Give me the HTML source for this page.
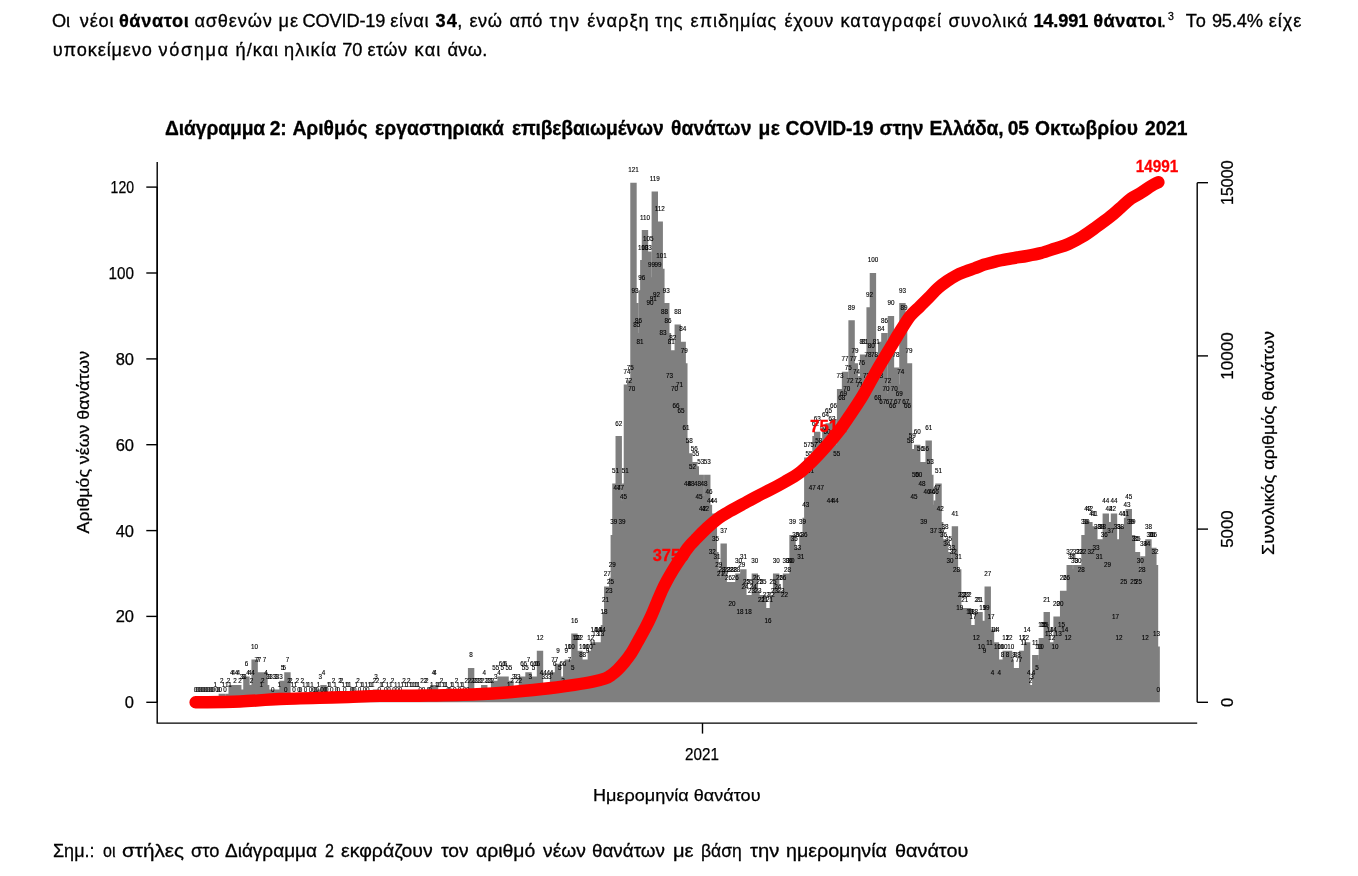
<!DOCTYPE html>
<html lang="el"><head><meta charset="utf-8"><title>COVID-19</title>
<style>
html,body{margin:0;padding:0;background:#fff}
body{width:1358px;height:876px;position:relative;overflow:hidden;font-family:"Liberation Sans",sans-serif;color:#000}
.t{position:absolute;white-space:nowrap;line-height:1;-webkit-text-stroke:0.3px #000}
.b{font-weight:bold}
</style></head><body>
<svg width="1358" height="876" viewBox="0 0 1358 876" style="position:absolute;left:0;top:0" font-family="'Liberation Sans', sans-serif">
<path d="M212.08 702.3h6.4V698.0h-6.4zM218.64 702.3h6.4V693.7h-6.4zM220.28 702.3h6.4V698.0h-6.4zM223.56 702.3h6.4V698.0h-6.4zM225.20 702.3h6.4V693.7h-6.4zM226.84 702.3h6.4V698.0h-6.4zM228.48 702.3h6.4V685.1h-6.4zM230.12 702.3h6.4V685.1h-6.4zM231.76 702.3h6.4V693.7h-6.4zM233.40 702.3h6.4V685.1h-6.4zM235.04 702.3h6.4V685.1h-6.4zM236.68 702.3h6.4V693.7h-6.4zM238.32 702.3h6.4V689.4h-6.4zM239.96 702.3h6.4V689.4h-6.4zM241.60 702.3h6.4V689.4h-6.4zM243.24 702.3h6.4V676.5h-6.4zM244.88 702.3h6.4V685.1h-6.4zM246.52 702.3h6.4V685.1h-6.4zM248.16 702.3h6.4V693.7h-6.4zM249.80 702.3h6.4V685.1h-6.4zM251.44 702.3h6.4V659.4h-6.4zM253.08 702.3h6.4V672.2h-6.4zM254.72 702.3h6.4V672.2h-6.4zM256.36 702.3h6.4V672.2h-6.4zM258.00 702.3h6.4V698.0h-6.4zM259.64 702.3h6.4V693.7h-6.4zM261.28 702.3h6.4V672.2h-6.4zM262.92 702.3h6.4V685.1h-6.4zM264.56 702.3h6.4V689.4h-6.4zM266.20 702.3h6.4V689.4h-6.4zM267.84 702.3h6.4V689.4h-6.4zM271.12 702.3h6.4V689.4h-6.4zM272.76 702.3h6.4V689.4h-6.4zM274.40 702.3h6.4V689.4h-6.4zM276.04 702.3h6.4V698.0h-6.4zM277.68 702.3h6.4V689.4h-6.4zM279.32 702.3h6.4V680.8h-6.4zM280.96 702.3h6.4V680.8h-6.4zM284.24 702.3h6.4V672.2h-6.4zM285.88 702.3h6.4V693.7h-6.4zM287.52 702.3h6.4V693.7h-6.4zM289.16 702.3h6.4V698.0h-6.4zM292.44 702.3h6.4V698.0h-6.4zM294.08 702.3h6.4V693.7h-6.4zM299.00 702.3h6.4V693.7h-6.4zM300.64 702.3h6.4V698.0h-6.4zM303.92 702.3h6.4V698.0h-6.4zM305.56 702.3h6.4V698.0h-6.4zM308.84 702.3h6.4V698.0h-6.4zM315.40 702.3h6.4V698.0h-6.4zM317.04 702.3h6.4V689.4h-6.4zM320.32 702.3h6.4V685.1h-6.4zM325.24 702.3h6.4V698.0h-6.4zM326.88 702.3h6.4V698.0h-6.4zM330.16 702.3h6.4V693.7h-6.4zM331.80 702.3h6.4V698.0h-6.4zM336.72 702.3h6.4V693.7h-6.4zM338.36 702.3h6.4V693.7h-6.4zM340.00 702.3h6.4V698.0h-6.4zM343.28 702.3h6.4V698.0h-6.4zM344.92 702.3h6.4V698.0h-6.4zM346.56 702.3h6.4V698.0h-6.4zM353.12 702.3h6.4V698.0h-6.4zM354.76 702.3h6.4V693.7h-6.4zM358.04 702.3h6.4V698.0h-6.4zM359.68 702.3h6.4V698.0h-6.4zM362.96 702.3h6.4V698.0h-6.4zM366.24 702.3h6.4V698.0h-6.4zM367.88 702.3h6.4V698.0h-6.4zM369.52 702.3h6.4V698.0h-6.4zM371.16 702.3h6.4V693.7h-6.4zM372.80 702.3h6.4V689.4h-6.4zM374.44 702.3h6.4V693.7h-6.4zM377.72 702.3h6.4V698.0h-6.4zM379.36 702.3h6.4V698.0h-6.4zM381.00 702.3h6.4V693.7h-6.4zM384.28 702.3h6.4V698.0h-6.4zM387.56 702.3h6.4V698.0h-6.4zM389.20 702.3h6.4V693.7h-6.4zM392.48 702.3h6.4V698.0h-6.4zM395.76 702.3h6.4V698.0h-6.4zM399.04 702.3h6.4V698.0h-6.4zM400.68 702.3h6.4V693.7h-6.4zM402.32 702.3h6.4V698.0h-6.4zM403.96 702.3h6.4V698.0h-6.4zM405.60 702.3h6.4V693.7h-6.4zM407.24 702.3h6.4V698.0h-6.4zM408.88 702.3h6.4V698.0h-6.4zM410.52 702.3h6.4V698.0h-6.4zM412.16 702.3h6.4V698.0h-6.4zM413.80 702.3h6.4V698.0h-6.4zM415.44 702.3h6.4V698.0h-6.4zM418.72 702.3h6.4V693.7h-6.4zM422.00 702.3h6.4V693.7h-6.4zM423.64 702.3h6.4V693.7h-6.4zM428.56 702.3h6.4V698.0h-6.4zM430.20 702.3h6.4V685.1h-6.4zM431.84 702.3h6.4V685.1h-6.4zM433.48 702.3h6.4V698.0h-6.4zM435.12 702.3h6.4V698.0h-6.4zM436.76 702.3h6.4V698.0h-6.4zM438.40 702.3h6.4V693.7h-6.4zM440.04 702.3h6.4V698.0h-6.4zM441.68 702.3h6.4V698.0h-6.4zM443.32 702.3h6.4V698.0h-6.4zM448.24 702.3h6.4V698.0h-6.4zM449.88 702.3h6.4V698.0h-6.4zM453.16 702.3h6.4V693.7h-6.4zM454.80 702.3h6.4V698.0h-6.4zM458.08 702.3h6.4V698.0h-6.4zM459.72 702.3h6.4V698.0h-6.4zM463.00 702.3h6.4V693.7h-6.4zM466.28 702.3h6.4V693.7h-6.4zM467.92 702.3h6.4V668.0h-6.4zM469.56 702.3h6.4V693.7h-6.4zM471.20 702.3h6.4V693.7h-6.4zM472.84 702.3h6.4V693.7h-6.4zM474.48 702.3h6.4V693.7h-6.4zM476.12 702.3h6.4V693.7h-6.4zM477.76 702.3h6.4V693.7h-6.4zM479.40 702.3h6.4V693.7h-6.4zM481.04 702.3h6.4V685.1h-6.4zM482.68 702.3h6.4V693.7h-6.4zM484.32 702.3h6.4V693.7h-6.4zM485.96 702.3h6.4V693.7h-6.4zM487.60 702.3h6.4V693.7h-6.4zM489.24 702.3h6.4V693.7h-6.4zM490.88 702.3h6.4V680.8h-6.4zM492.52 702.3h6.4V689.4h-6.4zM494.16 702.3h6.4V680.8h-6.4zM495.80 702.3h6.4V685.1h-6.4zM497.44 702.3h6.4V676.5h-6.4zM499.08 702.3h6.4V680.8h-6.4zM500.72 702.3h6.4V676.5h-6.4zM502.36 702.3h6.4V676.5h-6.4zM504.00 702.3h6.4V680.8h-6.4zM505.64 702.3h6.4V698.0h-6.4zM507.28 702.3h6.4V680.8h-6.4zM508.92 702.3h6.4V693.7h-6.4zM510.56 702.3h6.4V689.4h-6.4zM512.20 702.3h6.4V689.4h-6.4zM513.84 702.3h6.4V693.7h-6.4zM515.48 702.3h6.4V689.4h-6.4zM517.12 702.3h6.4V693.7h-6.4zM518.76 702.3h6.4V676.5h-6.4zM520.40 702.3h6.4V680.8h-6.4zM522.04 702.3h6.4V676.5h-6.4zM523.68 702.3h6.4V680.8h-6.4zM525.32 702.3h6.4V672.2h-6.4zM526.96 702.3h6.4V689.4h-6.4zM528.60 702.3h6.4V676.5h-6.4zM530.24 702.3h6.4V680.8h-6.4zM531.88 702.3h6.4V676.5h-6.4zM533.52 702.3h6.4V676.5h-6.4zM535.16 702.3h6.4V676.5h-6.4zM536.80 702.3h6.4V650.8h-6.4zM538.44 702.3h6.4V685.1h-6.4zM540.08 702.3h6.4V689.4h-6.4zM541.72 702.3h6.4V685.1h-6.4zM543.36 702.3h6.4V689.4h-6.4zM545.00 702.3h6.4V685.1h-6.4zM546.64 702.3h6.4V689.4h-6.4zM548.28 702.3h6.4V685.1h-6.4zM549.92 702.3h6.4V672.2h-6.4zM551.56 702.3h6.4V676.5h-6.4zM553.20 702.3h6.4V672.2h-6.4zM554.84 702.3h6.4V663.7h-6.4zM556.48 702.3h6.4V680.8h-6.4zM558.12 702.3h6.4V676.5h-6.4zM559.76 702.3h6.4V693.7h-6.4zM561.40 702.3h6.4V676.5h-6.4zM563.04 702.3h6.4V663.7h-6.4zM564.68 702.3h6.4V659.4h-6.4zM566.32 702.3h6.4V672.2h-6.4zM567.96 702.3h6.4V659.4h-6.4zM569.60 702.3h6.4V680.8h-6.4zM571.24 702.3h6.4V633.6h-6.4zM572.88 702.3h6.4V650.8h-6.4zM574.52 702.3h6.4V650.8h-6.4zM576.16 702.3h6.4V650.8h-6.4zM577.80 702.3h6.4V668.0h-6.4zM579.44 702.3h6.4V659.4h-6.4zM581.08 702.3h6.4V668.0h-6.4zM582.72 702.3h6.4V659.4h-6.4zM584.36 702.3h6.4V663.7h-6.4zM586.00 702.3h6.4V659.4h-6.4zM587.64 702.3h6.4V650.8h-6.4zM589.28 702.3h6.4V655.1h-6.4zM590.92 702.3h6.4V642.2h-6.4zM592.56 702.3h6.4V646.5h-6.4zM594.20 702.3h6.4V642.2h-6.4zM595.84 702.3h6.4V642.2h-6.4zM597.48 702.3h6.4V646.5h-6.4zM599.12 702.3h6.4V642.2h-6.4zM600.76 702.3h6.4V625.0h-6.4zM602.40 702.3h6.4V612.1h-6.4zM604.04 702.3h6.4V586.4h-6.4zM605.68 702.3h6.4V603.6h-6.4zM607.32 702.3h6.4V595.0h-6.4zM608.96 702.3h6.4V577.8h-6.4zM610.60 702.3h6.4V534.9h-6.4zM612.24 702.3h6.4V483.4h-6.4zM613.88 702.3h6.4V500.5h-6.4zM615.52 702.3h6.4V436.1h-6.4zM617.16 702.3h6.4V500.5h-6.4zM618.80 702.3h6.4V534.9h-6.4zM620.44 702.3h6.4V509.1h-6.4zM622.08 702.3h6.4V483.4h-6.4zM623.72 702.3h6.4V384.6h-6.4zM625.36 702.3h6.4V393.2h-6.4zM627.00 702.3h6.4V380.3h-6.4zM628.64 702.3h6.4V401.8h-6.4zM630.28 702.3h6.4V182.8h-6.4zM631.92 702.3h6.4V303.1h-6.4zM633.56 702.3h6.4V337.4h-6.4zM635.20 702.3h6.4V333.1h-6.4zM636.84 702.3h6.4V354.6h-6.4zM638.48 702.3h6.4V290.2h-6.4zM640.12 702.3h6.4V260.1h-6.4zM641.76 702.3h6.4V230.1h-6.4zM643.40 702.3h6.4V260.1h-6.4zM645.04 702.3h6.4V251.5h-6.4zM646.68 702.3h6.4V315.9h-6.4zM648.32 702.3h6.4V277.3h-6.4zM649.96 702.3h6.4V311.6h-6.4zM651.60 702.3h6.4V191.4h-6.4zM653.24 702.3h6.4V307.3h-6.4zM654.88 702.3h6.4V277.3h-6.4zM656.52 702.3h6.4V221.5h-6.4zM658.16 702.3h6.4V268.7h-6.4zM659.80 702.3h6.4V346.0h-6.4zM661.44 702.3h6.4V324.5h-6.4zM663.08 702.3h6.4V303.1h-6.4zM664.72 702.3h6.4V333.1h-6.4zM666.36 702.3h6.4V388.9h-6.4zM668.00 702.3h6.4V354.6h-6.4zM669.64 702.3h6.4V350.3h-6.4zM671.28 702.3h6.4V401.8h-6.4zM672.92 702.3h6.4V419.0h-6.4zM674.56 702.3h6.4V324.5h-6.4zM676.20 702.3h6.4V397.5h-6.4zM677.84 702.3h6.4V423.3h-6.4zM679.48 702.3h6.4V341.7h-6.4zM681.12 702.3h6.4V363.2h-6.4zM682.76 702.3h6.4V440.4h-6.4zM684.40 702.3h6.4V496.2h-6.4zM686.04 702.3h6.4V453.3h-6.4zM687.68 702.3h6.4V496.2h-6.4zM689.32 702.3h6.4V479.1h-6.4zM690.96 702.3h6.4V461.9h-6.4zM692.60 702.3h6.4V466.2h-6.4zM694.24 702.3h6.4V496.2h-6.4zM695.88 702.3h6.4V509.1h-6.4zM697.52 702.3h6.4V474.8h-6.4zM699.16 702.3h6.4V522.0h-6.4zM700.80 702.3h6.4V496.2h-6.4zM702.44 702.3h6.4V522.0h-6.4zM704.08 702.3h6.4V474.8h-6.4zM705.72 702.3h6.4V504.8h-6.4zM707.36 702.3h6.4V513.4h-6.4zM709.00 702.3h6.4V564.9h-6.4zM710.64 702.3h6.4V513.4h-6.4zM712.28 702.3h6.4V552.0h-6.4zM713.92 702.3h6.4V569.2h-6.4zM715.56 702.3h6.4V577.8h-6.4zM717.20 702.3h6.4V586.4h-6.4zM718.84 702.3h6.4V582.1h-6.4zM720.48 702.3h6.4V543.5h-6.4zM722.12 702.3h6.4V586.4h-6.4zM723.76 702.3h6.4V582.1h-6.4zM725.40 702.3h6.4V590.7h-6.4zM727.04 702.3h6.4V582.1h-6.4zM728.68 702.3h6.4V616.4h-6.4zM730.32 702.3h6.4V582.1h-6.4zM731.96 702.3h6.4V590.7h-6.4zM733.60 702.3h6.4V582.1h-6.4zM735.24 702.3h6.4V573.5h-6.4zM736.88 702.3h6.4V625.0h-6.4zM738.52 702.3h6.4V577.8h-6.4zM740.16 702.3h6.4V569.2h-6.4zM741.80 702.3h6.4V599.3h-6.4zM743.44 702.3h6.4V595.0h-6.4zM745.08 702.3h6.4V625.0h-6.4zM746.72 702.3h6.4V595.0h-6.4zM748.36 702.3h6.4V603.6h-6.4zM750.00 702.3h6.4V599.3h-6.4zM751.64 702.3h6.4V573.5h-6.4zM753.28 702.3h6.4V590.7h-6.4zM754.92 702.3h6.4V603.6h-6.4zM756.56 702.3h6.4V595.0h-6.4zM758.20 702.3h6.4V612.1h-6.4zM759.84 702.3h6.4V595.0h-6.4zM761.48 702.3h6.4V612.1h-6.4zM763.12 702.3h6.4V607.9h-6.4zM764.76 702.3h6.4V633.6h-6.4zM766.40 702.3h6.4V612.1h-6.4zM768.04 702.3h6.4V607.9h-6.4zM769.68 702.3h6.4V595.0h-6.4zM771.32 702.3h6.4V603.6h-6.4zM772.96 702.3h6.4V573.5h-6.4zM774.60 702.3h6.4V599.3h-6.4zM776.24 702.3h6.4V590.7h-6.4zM777.88 702.3h6.4V603.6h-6.4zM779.52 702.3h6.4V590.7h-6.4zM781.16 702.3h6.4V607.9h-6.4zM782.80 702.3h6.4V573.5h-6.4zM784.44 702.3h6.4V582.1h-6.4zM786.08 702.3h6.4V573.5h-6.4zM787.72 702.3h6.4V573.5h-6.4zM789.36 702.3h6.4V534.9h-6.4zM791.00 702.3h6.4V552.0h-6.4zM792.64 702.3h6.4V547.8h-6.4zM794.28 702.3h6.4V560.6h-6.4zM795.92 702.3h6.4V547.8h-6.4zM797.56 702.3h6.4V569.2h-6.4zM799.20 702.3h6.4V534.9h-6.4zM800.84 702.3h6.4V547.8h-6.4zM802.48 702.3h6.4V517.7h-6.4zM804.12 702.3h6.4V457.6h-6.4zM805.76 702.3h6.4V466.2h-6.4zM807.40 702.3h6.4V483.4h-6.4zM809.04 702.3h6.4V500.5h-6.4zM810.68 702.3h6.4V457.6h-6.4zM812.32 702.3h6.4V436.1h-6.4zM813.96 702.3h6.4V431.8h-6.4zM815.60 702.3h6.4V453.3h-6.4zM817.24 702.3h6.4V500.5h-6.4zM818.88 702.3h6.4V466.2h-6.4zM820.52 702.3h6.4V440.4h-6.4zM822.16 702.3h6.4V427.5h-6.4zM823.80 702.3h6.4V444.7h-6.4zM825.44 702.3h6.4V423.3h-6.4zM827.08 702.3h6.4V513.4h-6.4zM828.72 702.3h6.4V431.8h-6.4zM830.36 702.3h6.4V419.0h-6.4zM832.00 702.3h6.4V513.4h-6.4zM833.64 702.3h6.4V466.2h-6.4zM835.28 702.3h6.4V444.7h-6.4zM836.92 702.3h6.4V388.9h-6.4zM838.56 702.3h6.4V410.4h-6.4zM840.20 702.3h6.4V406.1h-6.4zM841.84 702.3h6.4V371.7h-6.4zM843.48 702.3h6.4V401.8h-6.4zM845.12 702.3h6.4V380.3h-6.4zM846.76 702.3h6.4V393.2h-6.4zM848.40 702.3h6.4V320.2h-6.4zM850.04 702.3h6.4V371.7h-6.4zM851.68 702.3h6.4V363.2h-6.4zM853.32 702.3h6.4V384.6h-6.4zM854.96 702.3h6.4V393.2h-6.4zM856.60 702.3h6.4V397.5h-6.4zM858.24 702.3h6.4V376.0h-6.4zM859.88 702.3h6.4V354.6h-6.4zM861.52 702.3h6.4V354.6h-6.4zM863.16 702.3h6.4V388.9h-6.4zM864.80 702.3h6.4V367.4h-6.4zM866.44 702.3h6.4V307.3h-6.4zM868.08 702.3h6.4V358.9h-6.4zM869.72 702.3h6.4V273.0h-6.4zM871.36 702.3h6.4V367.4h-6.4zM873.00 702.3h6.4V354.6h-6.4zM874.64 702.3h6.4V410.4h-6.4zM876.28 702.3h6.4V388.9h-6.4zM877.92 702.3h6.4V341.7h-6.4zM879.56 702.3h6.4V414.7h-6.4zM881.20 702.3h6.4V333.1h-6.4zM882.84 702.3h6.4V401.8h-6.4zM884.48 702.3h6.4V393.2h-6.4zM886.12 702.3h6.4V414.7h-6.4zM887.76 702.3h6.4V315.9h-6.4zM889.40 702.3h6.4V419.0h-6.4zM891.04 702.3h6.4V401.8h-6.4zM892.68 702.3h6.4V367.4h-6.4zM894.32 702.3h6.4V414.7h-6.4zM895.96 702.3h6.4V406.1h-6.4zM897.60 702.3h6.4V384.6h-6.4zM899.24 702.3h6.4V303.1h-6.4zM900.88 702.3h6.4V320.2h-6.4zM902.52 702.3h6.4V414.7h-6.4zM904.16 702.3h6.4V419.0h-6.4zM905.80 702.3h6.4V363.2h-6.4zM907.44 702.3h6.4V453.3h-6.4zM909.08 702.3h6.4V449.0h-6.4zM910.72 702.3h6.4V509.1h-6.4zM912.36 702.3h6.4V487.6h-6.4zM914.00 702.3h6.4V444.7h-6.4zM915.64 702.3h6.4V487.6h-6.4zM917.28 702.3h6.4V461.9h-6.4zM918.92 702.3h6.4V496.2h-6.4zM920.56 702.3h6.4V534.9h-6.4zM922.20 702.3h6.4V461.9h-6.4zM923.84 702.3h6.4V504.8h-6.4zM925.48 702.3h6.4V440.4h-6.4zM927.12 702.3h6.4V474.8h-6.4zM928.76 702.3h6.4V504.8h-6.4zM930.40 702.3h6.4V543.5h-6.4zM932.04 702.3h6.4V504.8h-6.4zM933.68 702.3h6.4V500.5h-6.4zM935.32 702.3h6.4V483.4h-6.4zM936.96 702.3h6.4V522.0h-6.4zM938.60 702.3h6.4V543.5h-6.4zM940.24 702.3h6.4V547.8h-6.4zM941.88 702.3h6.4V539.2h-6.4zM943.52 702.3h6.4V556.3h-6.4zM945.16 702.3h6.4V552.0h-6.4zM946.80 702.3h6.4V573.5h-6.4zM948.44 702.3h6.4V560.6h-6.4zM950.08 702.3h6.4V564.9h-6.4zM951.72 702.3h6.4V526.3h-6.4zM953.36 702.3h6.4V582.1h-6.4zM955.00 702.3h6.4V569.2h-6.4zM956.64 702.3h6.4V620.7h-6.4zM958.28 702.3h6.4V607.9h-6.4zM959.92 702.3h6.4V607.9h-6.4zM961.56 702.3h6.4V612.1h-6.4zM963.20 702.3h6.4V607.9h-6.4zM964.84 702.3h6.4V607.9h-6.4zM966.48 702.3h6.4V625.0h-6.4zM968.12 702.3h6.4V625.0h-6.4zM969.76 702.3h6.4V629.3h-6.4zM971.40 702.3h6.4V625.0h-6.4zM973.04 702.3h6.4V650.8h-6.4zM974.68 702.3h6.4V612.1h-6.4zM976.32 702.3h6.4V612.1h-6.4zM977.96 702.3h6.4V659.4h-6.4zM979.60 702.3h6.4V620.7h-6.4zM981.24 702.3h6.4V663.7h-6.4zM982.88 702.3h6.4V620.7h-6.4zM984.52 702.3h6.4V586.4h-6.4zM986.16 702.3h6.4V655.1h-6.4zM987.80 702.3h6.4V629.3h-6.4zM989.44 702.3h6.4V685.1h-6.4zM991.08 702.3h6.4V642.2h-6.4zM992.72 702.3h6.4V642.2h-6.4zM994.36 702.3h6.4V659.4h-6.4zM996.00 702.3h6.4V685.1h-6.4zM997.64 702.3h6.4V659.4h-6.4zM999.28 702.3h6.4V668.0h-6.4zM1000.92 702.3h6.4V659.4h-6.4zM1002.56 702.3h6.4V650.8h-6.4zM1004.20 702.3h6.4V668.0h-6.4zM1005.84 702.3h6.4V650.8h-6.4zM1007.48 702.3h6.4V659.4h-6.4zM1009.12 702.3h6.4V672.2h-6.4zM1010.76 702.3h6.4V668.0h-6.4zM1012.40 702.3h6.4V668.0h-6.4zM1014.04 702.3h6.4V672.2h-6.4zM1015.68 702.3h6.4V668.0h-6.4zM1017.32 702.3h6.4V672.2h-6.4zM1018.96 702.3h6.4V650.8h-6.4zM1020.60 702.3h6.4V655.1h-6.4zM1022.24 702.3h6.4V650.8h-6.4zM1023.88 702.3h6.4V642.2h-6.4zM1025.52 702.3h6.4V685.1h-6.4zM1027.16 702.3h6.4V693.7h-6.4zM1028.80 702.3h6.4V689.4h-6.4zM1030.44 702.3h6.4V685.1h-6.4zM1032.08 702.3h6.4V655.1h-6.4zM1033.72 702.3h6.4V680.8h-6.4zM1035.36 702.3h6.4V659.4h-6.4zM1037.00 702.3h6.4V659.4h-6.4zM1038.64 702.3h6.4V637.9h-6.4zM1040.28 702.3h6.4V637.9h-6.4zM1041.92 702.3h6.4V637.9h-6.4zM1043.56 702.3h6.4V612.1h-6.4zM1045.20 702.3h6.4V646.5h-6.4zM1046.84 702.3h6.4V642.2h-6.4zM1048.48 702.3h6.4V650.8h-6.4zM1050.12 702.3h6.4V642.2h-6.4zM1051.76 702.3h6.4V659.4h-6.4zM1053.40 702.3h6.4V616.4h-6.4zM1055.04 702.3h6.4V646.5h-6.4zM1056.68 702.3h6.4V616.4h-6.4zM1058.32 702.3h6.4V637.9h-6.4zM1059.96 702.3h6.4V590.7h-6.4zM1061.60 702.3h6.4V642.2h-6.4zM1063.24 702.3h6.4V590.7h-6.4zM1064.88 702.3h6.4V650.8h-6.4zM1066.52 702.3h6.4V564.9h-6.4zM1068.16 702.3h6.4V569.2h-6.4zM1069.80 702.3h6.4V569.2h-6.4zM1071.44 702.3h6.4V573.5h-6.4zM1073.08 702.3h6.4V564.9h-6.4zM1074.72 702.3h6.4V573.5h-6.4zM1076.36 702.3h6.4V564.9h-6.4zM1078.00 702.3h6.4V582.1h-6.4zM1079.64 702.3h6.4V564.9h-6.4zM1081.28 702.3h6.4V534.9h-6.4zM1082.92 702.3h6.4V534.9h-6.4zM1084.56 702.3h6.4V522.0h-6.4zM1086.20 702.3h6.4V522.0h-6.4zM1087.84 702.3h6.4V564.9h-6.4zM1089.48 702.3h6.4V526.3h-6.4zM1091.12 702.3h6.4V526.3h-6.4zM1092.76 702.3h6.4V560.6h-6.4zM1094.40 702.3h6.4V539.2h-6.4zM1096.04 702.3h6.4V569.2h-6.4zM1097.68 702.3h6.4V539.2h-6.4zM1099.32 702.3h6.4V539.2h-6.4zM1100.96 702.3h6.4V547.8h-6.4zM1102.60 702.3h6.4V513.4h-6.4zM1104.24 702.3h6.4V577.8h-6.4zM1105.88 702.3h6.4V522.0h-6.4zM1107.52 702.3h6.4V543.5h-6.4zM1109.16 702.3h6.4V522.0h-6.4zM1110.80 702.3h6.4V513.4h-6.4zM1112.44 702.3h6.4V629.3h-6.4zM1114.08 702.3h6.4V539.2h-6.4zM1115.72 702.3h6.4V650.8h-6.4zM1117.36 702.3h6.4V539.2h-6.4zM1119.00 702.3h6.4V526.3h-6.4zM1120.64 702.3h6.4V595.0h-6.4zM1122.28 702.3h6.4V526.3h-6.4zM1123.92 702.3h6.4V517.7h-6.4zM1125.56 702.3h6.4V509.1h-6.4zM1127.20 702.3h6.4V534.9h-6.4zM1128.84 702.3h6.4V534.9h-6.4zM1130.48 702.3h6.4V595.0h-6.4zM1132.12 702.3h6.4V552.0h-6.4zM1133.76 702.3h6.4V552.0h-6.4zM1135.40 702.3h6.4V595.0h-6.4zM1137.04 702.3h6.4V573.5h-6.4zM1138.68 702.3h6.4V582.1h-6.4zM1140.32 702.3h6.4V556.3h-6.4zM1141.96 702.3h6.4V650.8h-6.4zM1143.60 702.3h6.4V556.3h-6.4zM1145.24 702.3h6.4V539.2h-6.4zM1146.88 702.3h6.4V547.8h-6.4zM1148.52 702.3h6.4V547.8h-6.4zM1150.16 702.3h6.4V547.8h-6.4zM1151.80 702.3h6.4V564.9h-6.4zM1153.44 702.3h6.4V646.5h-6.4z" fill="#7f7f7f"/>
<g font-size="6.3" text-anchor="middle" fill="#000" stroke="#000" stroke-width="0.12">
<text x="195.6" y="691.7">0</text>
<text x="197.2" y="691.7">0</text>
<text x="198.9" y="691.7">0</text>
<text x="200.5" y="691.7">0</text>
<text x="202.2" y="691.7">0</text>
<text x="203.8" y="691.7">0</text>
<text x="205.4" y="691.7">0</text>
<text x="207.1" y="691.7">0</text>
<text x="208.7" y="691.7">0</text>
<text x="210.4" y="691.7">0</text>
<text x="212.0" y="691.7">0</text>
<text x="213.6" y="691.7">0</text>
<text x="215.3" y="687.4">1</text>
<text x="216.9" y="691.7">0</text>
<text x="218.6" y="691.7">0</text>
<text x="220.2" y="691.7">0</text>
<text x="221.8" y="683.1">2</text>
<text x="223.5" y="687.4">1</text>
<text x="225.1" y="691.7">0</text>
<text x="226.8" y="687.4">1</text>
<text x="228.4" y="683.1">2</text>
<text x="230.0" y="687.4">1</text>
<text x="231.7" y="674.5">4</text>
<text x="233.3" y="674.5">4</text>
<text x="235.0" y="683.1">2</text>
<text x="236.6" y="674.5">4</text>
<text x="238.2" y="674.5">4</text>
<text x="239.9" y="683.1">2</text>
<text x="241.5" y="678.8">3</text>
<text x="243.2" y="678.8">3</text>
<text x="244.8" y="678.8">3</text>
<text x="246.4" y="665.9">6</text>
<text x="248.1" y="674.5">4</text>
<text x="249.7" y="674.5">4</text>
<text x="251.4" y="683.1">2</text>
<text x="253.0" y="674.5">4</text>
<text x="254.6" y="648.8">10</text>
<text x="256.3" y="661.6">7</text>
<text x="257.9" y="661.6">7</text>
<text x="259.6" y="661.6">7</text>
<text x="261.2" y="687.4">1</text>
<text x="262.8" y="683.1">2</text>
<text x="264.5" y="661.6">7</text>
<text x="266.1" y="674.5">4</text>
<text x="267.8" y="678.8">3</text>
<text x="269.4" y="678.8">3</text>
<text x="271.0" y="678.8">3</text>
<text x="272.7" y="691.7">0</text>
<text x="274.3" y="678.8">3</text>
<text x="276.0" y="678.8">3</text>
<text x="277.6" y="678.8">3</text>
<text x="279.2" y="687.4">1</text>
<text x="280.9" y="678.8">3</text>
<text x="282.5" y="670.2">5</text>
<text x="284.2" y="670.2">5</text>
<text x="285.8" y="691.7">0</text>
<text x="287.4" y="661.6">7</text>
<text x="289.1" y="683.1">2</text>
<text x="290.7" y="683.1">2</text>
<text x="292.4" y="687.4">1</text>
<text x="294.0" y="691.7">0</text>
<text x="295.6" y="687.4">1</text>
<text x="297.3" y="683.1">2</text>
<text x="298.9" y="691.7">0</text>
<text x="300.6" y="691.7">0</text>
<text x="302.2" y="683.1">2</text>
<text x="303.8" y="687.4">1</text>
<text x="305.5" y="691.7">0</text>
<text x="307.1" y="687.4">1</text>
<text x="308.8" y="687.4">1</text>
<text x="310.4" y="691.7">0</text>
<text x="312.0" y="687.4">1</text>
<text x="313.7" y="691.7">0</text>
<text x="315.3" y="691.7">0</text>
<text x="317.0" y="691.7">0</text>
<text x="318.6" y="687.4">1</text>
<text x="320.2" y="678.8">3</text>
<text x="321.9" y="691.7">0</text>
<text x="323.5" y="674.5">4</text>
<text x="325.2" y="691.7">0</text>
<text x="326.8" y="691.7">0</text>
<text x="328.4" y="687.4">1</text>
<text x="330.1" y="687.4">1</text>
<text x="331.7" y="691.7">0</text>
<text x="333.4" y="683.1">2</text>
<text x="335.0" y="687.4">1</text>
<text x="336.6" y="691.7">0</text>
<text x="338.3" y="691.7">0</text>
<text x="339.9" y="683.1">2</text>
<text x="341.6" y="683.1">2</text>
<text x="343.2" y="687.4">1</text>
<text x="344.8" y="691.7">0</text>
<text x="346.5" y="687.4">1</text>
<text x="348.1" y="687.4">1</text>
<text x="349.8" y="687.4">1</text>
<text x="351.4" y="691.7">0</text>
<text x="353.0" y="691.7">0</text>
<text x="354.7" y="691.7">0</text>
<text x="356.3" y="687.4">1</text>
<text x="358.0" y="683.1">2</text>
<text x="359.6" y="691.7">0</text>
<text x="361.2" y="687.4">1</text>
<text x="362.9" y="687.4">1</text>
<text x="364.5" y="691.7">0</text>
<text x="366.2" y="687.4">1</text>
<text x="367.8" y="691.7">0</text>
<text x="369.4" y="687.4">1</text>
<text x="371.1" y="687.4">1</text>
<text x="372.7" y="687.4">1</text>
<text x="374.4" y="683.1">2</text>
<text x="376.0" y="678.8">3</text>
<text x="377.6" y="683.1">2</text>
<text x="379.3" y="691.7">0</text>
<text x="380.9" y="687.4">1</text>
<text x="382.6" y="687.4">1</text>
<text x="384.2" y="683.1">2</text>
<text x="385.8" y="691.7">0</text>
<text x="387.5" y="687.4">1</text>
<text x="389.1" y="691.7">0</text>
<text x="390.8" y="687.4">1</text>
<text x="392.4" y="683.1">2</text>
<text x="394.0" y="691.7">0</text>
<text x="395.7" y="687.4">1</text>
<text x="397.3" y="691.7">0</text>
<text x="399.0" y="687.4">1</text>
<text x="400.6" y="691.7">0</text>
<text x="402.2" y="687.4">1</text>
<text x="403.9" y="683.1">2</text>
<text x="405.5" y="687.4">1</text>
<text x="407.2" y="687.4">1</text>
<text x="408.8" y="683.1">2</text>
<text x="410.4" y="687.4">1</text>
<text x="412.1" y="687.4">1</text>
<text x="413.7" y="687.4">1</text>
<text x="415.4" y="687.4">1</text>
<text x="417.0" y="687.4">1</text>
<text x="418.6" y="687.4">1</text>
<text x="420.3" y="691.7">0</text>
<text x="421.9" y="683.1">2</text>
<text x="423.6" y="691.7">0</text>
<text x="425.2" y="683.1">2</text>
<text x="426.8" y="683.1">2</text>
<text x="428.5" y="691.7">0</text>
<text x="430.1" y="691.7">0</text>
<text x="431.8" y="687.4">1</text>
<text x="433.4" y="674.5">4</text>
<text x="435.0" y="674.5">4</text>
<text x="436.7" y="687.4">1</text>
<text x="438.3" y="687.4">1</text>
<text x="440.0" y="687.4">1</text>
<text x="441.6" y="683.1">2</text>
<text x="443.2" y="687.4">1</text>
<text x="444.9" y="687.4">1</text>
<text x="446.5" y="687.4">1</text>
<text x="448.2" y="691.7">0</text>
<text x="449.8" y="691.7">0</text>
<text x="451.4" y="687.4">1</text>
<text x="453.1" y="687.4">1</text>
<text x="454.7" y="691.7">0</text>
<text x="456.4" y="683.1">2</text>
<text x="458.0" y="687.4">1</text>
<text x="459.6" y="691.7">0</text>
<text x="461.3" y="687.4">1</text>
<text x="462.9" y="687.4">1</text>
<text x="464.6" y="691.7">0</text>
<text x="466.2" y="683.1">2</text>
<text x="467.8" y="691.7">0</text>
<text x="469.5" y="683.1">2</text>
<text x="471.1" y="657.4">8</text>
<text x="472.8" y="683.1">2</text>
<text x="474.4" y="683.1">2</text>
<text x="476.0" y="683.1">2</text>
<text x="477.7" y="683.1">2</text>
<text x="479.3" y="683.1">2</text>
<text x="481.0" y="683.1">2</text>
<text x="482.6" y="683.1">2</text>
<text x="484.2" y="674.5">4</text>
<text x="485.9" y="683.1">2</text>
<text x="487.5" y="683.1">2</text>
<text x="489.2" y="683.1">2</text>
<text x="490.8" y="683.1">2</text>
<text x="492.4" y="683.1">2</text>
<text x="494.1" y="670.2">5</text>
<text x="495.7" y="678.8">3</text>
<text x="497.4" y="670.2">5</text>
<text x="499.0" y="674.5">4</text>
<text x="500.6" y="665.9">6</text>
<text x="502.3" y="670.2">5</text>
<text x="503.9" y="665.9">6</text>
<text x="505.6" y="665.9">6</text>
<text x="507.2" y="670.2">5</text>
<text x="508.8" y="687.4">1</text>
<text x="510.5" y="670.2">5</text>
<text x="512.1" y="683.1">2</text>
<text x="513.8" y="678.8">3</text>
<text x="515.4" y="678.8">3</text>
<text x="517.0" y="683.1">2</text>
<text x="518.7" y="678.8">3</text>
<text x="520.3" y="683.1">2</text>
<text x="522.0" y="665.9">6</text>
<text x="523.6" y="670.2">5</text>
<text x="525.2" y="665.9">6</text>
<text x="526.9" y="670.2">5</text>
<text x="528.5" y="661.6">7</text>
<text x="530.2" y="678.8">3</text>
<text x="531.8" y="665.9">6</text>
<text x="533.4" y="670.2">5</text>
<text x="535.1" y="665.9">6</text>
<text x="536.7" y="665.9">6</text>
<text x="538.4" y="665.9">6</text>
<text x="540.0" y="640.2">12</text>
<text x="541.6" y="674.5">4</text>
<text x="543.3" y="678.8">3</text>
<text x="544.9" y="674.5">4</text>
<text x="546.6" y="678.8">3</text>
<text x="548.2" y="674.5">4</text>
<text x="549.8" y="678.8">3</text>
<text x="551.5" y="674.5">4</text>
<text x="553.1" y="661.6">7</text>
<text x="554.8" y="665.9">6</text>
<text x="556.4" y="661.6">7</text>
<text x="558.0" y="653.1">9</text>
<text x="559.7" y="670.2">5</text>
<text x="561.3" y="665.9">6</text>
<text x="563.0" y="683.1">2</text>
<text x="564.6" y="665.9">6</text>
<text x="566.2" y="653.1">9</text>
<text x="567.9" y="648.8">10</text>
<text x="569.5" y="661.6">7</text>
<text x="571.2" y="648.8">10</text>
<text x="572.8" y="670.2">5</text>
<text x="574.4" y="623.0">16</text>
<text x="576.1" y="640.2">12</text>
<text x="577.7" y="640.2">12</text>
<text x="579.4" y="640.2">12</text>
<text x="581.0" y="657.4">8</text>
<text x="582.6" y="648.8">10</text>
<text x="584.3" y="657.4">8</text>
<text x="585.9" y="648.8">10</text>
<text x="587.6" y="653.1">9</text>
<text x="589.2" y="648.8">10</text>
<text x="590.8" y="640.2">12</text>
<text x="592.5" y="644.5">11</text>
<text x="594.1" y="631.6">14</text>
<text x="595.8" y="635.9">13</text>
<text x="597.4" y="631.6">14</text>
<text x="599.0" y="631.6">14</text>
<text x="600.7" y="635.9">13</text>
<text x="602.3" y="631.6">14</text>
<text x="604.0" y="614.4">18</text>
<text x="605.6" y="601.5">21</text>
<text x="607.2" y="575.8">27</text>
<text x="608.9" y="593.0">23</text>
<text x="610.5" y="584.4">25</text>
<text x="612.2" y="567.2">29</text>
<text x="613.8" y="524.3">39</text>
<text x="615.4" y="472.8">51</text>
<text x="617.1" y="489.9">47</text>
<text x="618.7" y="425.5">62</text>
<text x="620.4" y="489.9">47</text>
<text x="622.0" y="524.3">39</text>
<text x="623.6" y="498.5">45</text>
<text x="625.3" y="472.8">51</text>
<text x="626.9" y="374.0">74</text>
<text x="628.6" y="382.6">72</text>
<text x="630.2" y="369.7">75</text>
<text x="631.8" y="391.2">70</text>
<text x="633.5" y="172.2">121</text>
<text x="635.1" y="292.5">93</text>
<text x="636.8" y="326.8">85</text>
<text x="638.4" y="322.5">86</text>
<text x="640.0" y="344.0">81</text>
<text x="641.7" y="279.6">96</text>
<text x="643.3" y="249.5">103</text>
<text x="645.0" y="219.5">110</text>
<text x="646.6" y="249.5">103</text>
<text x="648.2" y="240.9">105</text>
<text x="649.9" y="305.3">90</text>
<text x="651.5" y="266.7">99</text>
<text x="653.2" y="301.0">91</text>
<text x="654.8" y="180.8">119</text>
<text x="656.4" y="296.7">92</text>
<text x="658.1" y="266.7">99</text>
<text x="659.7" y="210.9">112</text>
<text x="661.4" y="258.1">101</text>
<text x="663.0" y="335.4">83</text>
<text x="664.6" y="313.9">88</text>
<text x="666.3" y="292.5">93</text>
<text x="667.9" y="322.5">86</text>
<text x="669.6" y="378.3">73</text>
<text x="671.2" y="344.0">81</text>
<text x="672.8" y="339.7">82</text>
<text x="674.5" y="391.2">70</text>
<text x="676.1" y="408.4">66</text>
<text x="677.8" y="313.9">88</text>
<text x="679.4" y="386.9">71</text>
<text x="681.0" y="412.7">65</text>
<text x="682.7" y="331.1">84</text>
<text x="684.3" y="352.6">79</text>
<text x="686.0" y="429.8">61</text>
<text x="687.6" y="485.6">48</text>
<text x="689.2" y="442.7">58</text>
<text x="690.9" y="485.6">48</text>
<text x="692.5" y="468.5">52</text>
<text x="694.2" y="451.3">56</text>
<text x="695.8" y="455.6">55</text>
<text x="697.4" y="485.6">48</text>
<text x="699.1" y="498.5">45</text>
<text x="700.7" y="464.2">53</text>
<text x="702.4" y="511.4">42</text>
<text x="704.0" y="485.6">48</text>
<text x="705.6" y="511.4">42</text>
<text x="707.3" y="464.2">53</text>
<text x="708.9" y="494.2">46</text>
<text x="710.6" y="502.8">44</text>
<text x="712.2" y="554.3">32</text>
<text x="713.8" y="502.8">44</text>
<text x="715.5" y="541.4">35</text>
<text x="717.1" y="558.6">31</text>
<text x="718.8" y="567.2">29</text>
<text x="720.4" y="575.8">27</text>
<text x="722.0" y="571.5">28</text>
<text x="723.7" y="532.9">37</text>
<text x="725.3" y="575.8">27</text>
<text x="727.0" y="571.5">28</text>
<text x="728.6" y="580.1">26</text>
<text x="730.2" y="571.5">28</text>
<text x="731.9" y="605.8">20</text>
<text x="733.5" y="571.5">28</text>
<text x="735.2" y="580.1">26</text>
<text x="736.8" y="571.5">28</text>
<text x="738.4" y="562.9">30</text>
<text x="740.1" y="614.4">18</text>
<text x="741.7" y="567.2">29</text>
<text x="743.4" y="558.6">31</text>
<text x="745.0" y="588.7">24</text>
<text x="746.6" y="584.4">25</text>
<text x="748.3" y="614.4">18</text>
<text x="749.9" y="584.4">25</text>
<text x="751.6" y="593.0">23</text>
<text x="753.2" y="588.7">24</text>
<text x="754.8" y="562.9">30</text>
<text x="756.5" y="580.1">26</text>
<text x="758.1" y="593.0">23</text>
<text x="759.8" y="584.4">25</text>
<text x="761.4" y="601.5">21</text>
<text x="763.0" y="584.4">25</text>
<text x="764.7" y="601.5">21</text>
<text x="766.3" y="597.3">22</text>
<text x="768.0" y="623.0">16</text>
<text x="769.6" y="601.5">21</text>
<text x="771.2" y="597.3">22</text>
<text x="772.9" y="584.4">25</text>
<text x="774.5" y="593.0">23</text>
<text x="776.2" y="562.9">30</text>
<text x="777.8" y="588.7">24</text>
<text x="779.4" y="580.1">26</text>
<text x="781.1" y="593.0">23</text>
<text x="782.7" y="580.1">26</text>
<text x="784.4" y="597.3">22</text>
<text x="786.0" y="562.9">30</text>
<text x="787.6" y="571.5">28</text>
<text x="789.3" y="562.9">30</text>
<text x="790.9" y="562.9">30</text>
<text x="792.6" y="524.3">39</text>
<text x="794.2" y="541.4">35</text>
<text x="795.8" y="537.2">36</text>
<text x="797.5" y="550.0">33</text>
<text x="799.1" y="537.2">36</text>
<text x="800.8" y="558.6">31</text>
<text x="802.4" y="524.3">39</text>
<text x="804.0" y="537.2">36</text>
<text x="805.7" y="507.1">43</text>
<text x="807.3" y="447.0">57</text>
<text x="809.0" y="455.6">55</text>
<text x="810.6" y="472.8">51</text>
<text x="812.2" y="489.9">47</text>
<text x="813.9" y="447.0">57</text>
<text x="815.5" y="425.5">62</text>
<text x="817.2" y="421.2">63</text>
<text x="818.8" y="442.7">58</text>
<text x="820.4" y="489.9">47</text>
<text x="822.1" y="455.6">55</text>
<text x="823.7" y="429.8">61</text>
<text x="825.4" y="416.9">64</text>
<text x="827.0" y="434.1">60</text>
<text x="828.6" y="412.7">65</text>
<text x="830.3" y="502.8">44</text>
<text x="831.9" y="421.2">63</text>
<text x="833.6" y="408.4">66</text>
<text x="835.2" y="502.8">44</text>
<text x="836.8" y="455.6">55</text>
<text x="838.5" y="434.1">60</text>
<text x="840.1" y="378.3">73</text>
<text x="841.8" y="399.8">68</text>
<text x="843.4" y="395.5">69</text>
<text x="845.0" y="361.1">77</text>
<text x="846.7" y="391.2">70</text>
<text x="848.3" y="369.7">75</text>
<text x="850.0" y="382.6">72</text>
<text x="851.6" y="309.6">89</text>
<text x="853.2" y="361.1">77</text>
<text x="854.9" y="352.6">79</text>
<text x="856.5" y="374.0">74</text>
<text x="858.2" y="382.6">72</text>
<text x="859.8" y="386.9">71</text>
<text x="861.4" y="365.4">76</text>
<text x="863.1" y="344.0">81</text>
<text x="864.7" y="344.0">81</text>
<text x="866.4" y="378.3">73</text>
<text x="868.0" y="356.8">78</text>
<text x="869.6" y="296.7">92</text>
<text x="871.3" y="348.3">80</text>
<text x="872.9" y="262.4">100</text>
<text x="874.6" y="356.8">78</text>
<text x="876.2" y="344.0">81</text>
<text x="877.8" y="399.8">68</text>
<text x="879.5" y="378.3">73</text>
<text x="881.1" y="331.1">84</text>
<text x="882.8" y="404.1">67</text>
<text x="884.4" y="322.5">86</text>
<text x="886.0" y="391.2">70</text>
<text x="887.7" y="382.6">72</text>
<text x="889.3" y="404.1">67</text>
<text x="891.0" y="305.3">90</text>
<text x="892.6" y="408.4">66</text>
<text x="894.2" y="391.2">70</text>
<text x="895.9" y="356.8">78</text>
<text x="897.5" y="404.1">67</text>
<text x="899.2" y="395.5">69</text>
<text x="900.8" y="374.0">74</text>
<text x="902.4" y="292.5">93</text>
<text x="904.1" y="309.6">89</text>
<text x="905.7" y="404.1">67</text>
<text x="907.4" y="408.4">66</text>
<text x="909.0" y="352.6">79</text>
<text x="910.6" y="442.7">58</text>
<text x="912.3" y="438.4">59</text>
<text x="913.9" y="498.5">45</text>
<text x="915.6" y="477.0">50</text>
<text x="917.2" y="434.1">60</text>
<text x="918.8" y="477.0">50</text>
<text x="920.5" y="451.3">56</text>
<text x="922.1" y="485.6">48</text>
<text x="923.8" y="524.3">39</text>
<text x="925.4" y="451.3">56</text>
<text x="927.0" y="494.2">46</text>
<text x="928.7" y="429.8">61</text>
<text x="930.3" y="464.2">53</text>
<text x="932.0" y="494.2">46</text>
<text x="933.6" y="532.9">37</text>
<text x="935.2" y="494.2">46</text>
<text x="936.9" y="489.9">47</text>
<text x="938.5" y="472.8">51</text>
<text x="940.2" y="511.4">42</text>
<text x="941.8" y="532.9">37</text>
<text x="943.4" y="537.2">36</text>
<text x="945.1" y="528.6">38</text>
<text x="946.7" y="545.7">34</text>
<text x="948.4" y="541.4">35</text>
<text x="950.0" y="562.9">30</text>
<text x="951.6" y="550.0">33</text>
<text x="953.3" y="554.3">32</text>
<text x="954.9" y="515.7">41</text>
<text x="956.6" y="571.5">28</text>
<text x="958.2" y="558.6">31</text>
<text x="959.8" y="610.1">19</text>
<text x="961.5" y="597.3">22</text>
<text x="963.1" y="597.3">22</text>
<text x="964.8" y="601.5">21</text>
<text x="966.4" y="597.3">22</text>
<text x="968.0" y="597.3">22</text>
<text x="969.7" y="614.4">18</text>
<text x="971.3" y="614.4">18</text>
<text x="973.0" y="618.7">17</text>
<text x="974.6" y="614.4">18</text>
<text x="976.2" y="640.2">12</text>
<text x="977.9" y="601.5">21</text>
<text x="979.5" y="601.5">21</text>
<text x="981.2" y="648.8">10</text>
<text x="982.8" y="610.1">19</text>
<text x="984.4" y="653.1">9</text>
<text x="986.1" y="610.1">19</text>
<text x="987.7" y="575.8">27</text>
<text x="989.4" y="644.5">11</text>
<text x="991.0" y="618.7">17</text>
<text x="992.6" y="674.5">4</text>
<text x="994.3" y="631.6">14</text>
<text x="995.9" y="631.6">14</text>
<text x="997.6" y="648.8">10</text>
<text x="999.2" y="674.5">4</text>
<text x="1000.8" y="648.8">10</text>
<text x="1002.5" y="657.4">8</text>
<text x="1004.1" y="648.8">10</text>
<text x="1005.8" y="640.2">12</text>
<text x="1007.4" y="657.4">8</text>
<text x="1009.0" y="640.2">12</text>
<text x="1010.7" y="648.8">10</text>
<text x="1012.3" y="661.6">7</text>
<text x="1014.0" y="657.4">8</text>
<text x="1015.6" y="657.4">8</text>
<text x="1017.2" y="661.6">7</text>
<text x="1018.9" y="657.4">8</text>
<text x="1020.5" y="661.6">7</text>
<text x="1022.2" y="640.2">12</text>
<text x="1023.8" y="644.5">11</text>
<text x="1025.4" y="640.2">12</text>
<text x="1027.1" y="631.6">14</text>
<text x="1028.7" y="674.5">4</text>
<text x="1030.4" y="683.1">2</text>
<text x="1032.0" y="678.8">3</text>
<text x="1033.6" y="674.5">4</text>
<text x="1035.3" y="644.5">11</text>
<text x="1036.9" y="670.2">5</text>
<text x="1038.6" y="648.8">10</text>
<text x="1040.2" y="648.8">10</text>
<text x="1041.8" y="627.3">15</text>
<text x="1043.5" y="627.3">15</text>
<text x="1045.1" y="627.3">15</text>
<text x="1046.8" y="601.5">21</text>
<text x="1048.4" y="635.9">13</text>
<text x="1050.0" y="631.6">14</text>
<text x="1051.7" y="640.2">12</text>
<text x="1053.3" y="631.6">14</text>
<text x="1055.0" y="648.8">10</text>
<text x="1056.6" y="605.8">20</text>
<text x="1058.2" y="635.9">13</text>
<text x="1059.9" y="605.8">20</text>
<text x="1061.5" y="627.3">15</text>
<text x="1063.2" y="580.1">26</text>
<text x="1064.8" y="631.6">14</text>
<text x="1066.4" y="580.1">26</text>
<text x="1068.1" y="640.2">12</text>
<text x="1069.7" y="554.3">32</text>
<text x="1071.4" y="558.6">31</text>
<text x="1073.0" y="558.6">31</text>
<text x="1074.6" y="562.9">30</text>
<text x="1076.3" y="554.3">32</text>
<text x="1077.9" y="562.9">30</text>
<text x="1079.6" y="554.3">32</text>
<text x="1081.2" y="571.5">28</text>
<text x="1082.8" y="554.3">32</text>
<text x="1084.5" y="524.3">39</text>
<text x="1086.1" y="524.3">39</text>
<text x="1087.8" y="511.4">42</text>
<text x="1089.4" y="511.4">42</text>
<text x="1091.0" y="554.3">32</text>
<text x="1092.7" y="515.7">41</text>
<text x="1094.3" y="515.7">41</text>
<text x="1096.0" y="550.0">33</text>
<text x="1097.6" y="528.6">38</text>
<text x="1099.2" y="558.6">31</text>
<text x="1100.9" y="528.6">38</text>
<text x="1102.5" y="528.6">38</text>
<text x="1104.2" y="537.2">36</text>
<text x="1105.8" y="502.8">44</text>
<text x="1107.4" y="567.2">29</text>
<text x="1109.1" y="511.4">42</text>
<text x="1110.7" y="532.9">37</text>
<text x="1112.4" y="511.4">42</text>
<text x="1114.0" y="502.8">44</text>
<text x="1115.6" y="618.7">17</text>
<text x="1117.3" y="528.6">38</text>
<text x="1118.9" y="640.2">12</text>
<text x="1120.6" y="528.6">38</text>
<text x="1122.2" y="515.7">41</text>
<text x="1123.8" y="584.4">25</text>
<text x="1125.5" y="515.7">41</text>
<text x="1127.1" y="507.1">43</text>
<text x="1128.8" y="498.5">45</text>
<text x="1130.4" y="524.3">39</text>
<text x="1132.0" y="524.3">39</text>
<text x="1133.7" y="584.4">25</text>
<text x="1135.3" y="541.4">35</text>
<text x="1137.0" y="541.4">35</text>
<text x="1138.6" y="584.4">25</text>
<text x="1140.2" y="562.9">30</text>
<text x="1141.9" y="571.5">28</text>
<text x="1143.5" y="545.7">34</text>
<text x="1145.2" y="640.2">12</text>
<text x="1146.8" y="545.7">34</text>
<text x="1148.4" y="528.6">38</text>
<text x="1150.1" y="537.2">36</text>
<text x="1151.7" y="537.2">36</text>
<text x="1153.4" y="537.2">36</text>
<text x="1155.0" y="554.3">32</text>
<text x="1156.6" y="635.9">13</text>
<text x="1158.3" y="691.7">0</text>
</g>
<g font-size="17" font-weight="bold" fill="#ff0000" stroke="#ff0000" stroke-width="0.3" text-anchor="middle">
<text x="671" y="561.2" textLength="36.5" lengthAdjust="spacingAndGlyphs">3759</text>
<text x="828.3" y="432" textLength="36.5" lengthAdjust="spacingAndGlyphs">7511</text>
</g>
<path d="M195.6 702.3C203.0 702.2 225.9 702.0 240.0 701.5C254.1 701.0 263.3 699.7 280.0 699.0C296.7 698.3 323.3 697.8 340.0 697.3C356.7 696.8 365.2 696.2 380.0 695.9C394.8 695.6 412.4 695.8 428.6 695.5C444.8 695.2 463.7 694.8 477.2 694.2C490.7 693.7 498.8 693.1 509.6 692.2C520.4 691.3 531.2 690.2 542.0 689.0C552.8 687.8 566.0 686.0 574.4 684.8C582.8 683.6 587.5 682.8 592.6 681.7C597.7 680.7 602.0 679.6 605.1 678.5C608.2 677.4 609.3 676.5 611.4 675.0C613.5 673.5 615.6 671.7 617.7 669.7C619.8 667.7 621.7 665.6 624.0 662.8C626.3 660.0 629.1 656.6 631.5 652.8C633.9 649.0 636.3 644.4 638.6 640.2C640.9 636.0 643.3 631.9 645.5 627.7C647.7 623.5 649.7 619.3 651.6 615.1C653.5 610.9 655.0 606.8 656.8 602.6C658.6 598.4 660.6 593.5 662.2 590.0C663.8 586.5 664.8 584.6 666.6 581.3C668.4 577.9 670.8 573.7 673.1 569.9C675.4 566.1 677.9 562.3 680.5 558.5C683.1 554.7 686.0 550.3 688.5 547.1C691.0 543.9 692.6 542.5 695.7 539.3C698.8 536.1 703.3 531.4 707.1 527.9C710.9 524.4 714.7 521.0 718.5 518.2C722.3 515.4 725.7 513.6 729.9 511.2C734.1 508.8 739.1 506.1 743.7 503.6C748.3 501.1 752.8 498.6 757.4 496.2C762.0 493.8 766.5 491.7 771.1 489.3C775.7 486.9 780.2 484.4 784.8 481.8C789.4 479.2 793.9 477.0 798.5 473.6C803.1 470.2 807.6 465.7 812.2 461.2C816.8 456.7 821.3 451.8 825.9 446.6C830.5 441.4 835.6 435.3 839.6 430.1C843.6 424.9 846.1 420.9 850.0 415.2C853.9 409.5 859.1 401.7 862.7 395.8C866.3 389.9 868.5 385.2 871.5 379.9C874.5 374.6 877.5 369.2 880.6 363.9C883.7 358.6 887.0 353.2 890.2 347.9C893.4 342.6 896.5 337.2 899.8 331.9C903.1 326.6 906.8 320.3 910.2 316.0C913.6 311.7 916.9 309.4 920.0 306.3C923.1 303.2 926.1 300.4 929.1 297.3C932.1 294.2 935.2 290.6 938.3 287.9C941.3 285.2 944.4 283.0 947.4 280.9C950.4 278.8 953.5 277.0 956.5 275.4C959.5 273.8 962.7 272.7 965.7 271.5C968.8 270.3 971.8 269.4 974.8 268.3C977.8 267.2 980.8 265.7 983.9 264.7C987.0 263.7 990.4 262.9 993.1 262.2C995.8 261.5 996.6 261.2 1000.0 260.5C1003.4 259.8 1009.1 258.9 1013.7 258.1C1018.3 257.3 1022.8 256.7 1027.4 255.8C1032.0 255.0 1036.5 254.2 1041.1 253.0C1045.7 251.8 1050.2 250.1 1054.8 248.6C1059.4 247.1 1063.9 246.0 1068.5 244.0C1073.1 242.0 1077.6 239.6 1082.2 236.8C1086.8 234.0 1091.2 230.7 1095.9 227.3C1100.6 223.9 1106.4 219.7 1110.5 216.4C1114.6 213.2 1117.0 210.8 1120.4 207.8C1123.8 204.8 1127.6 201.0 1131.1 198.5C1134.6 196.0 1138.0 194.7 1141.4 192.6C1144.8 190.5 1148.8 187.4 1151.6 185.7C1154.4 184.0 1157.3 182.8 1158.4 182.2" fill="none" stroke="#ff0000" stroke-width="12.4" stroke-linecap="round" stroke-linejoin="round"/>
<text x="1157" y="172" font-size="17" font-weight="bold" fill="#ff0000" stroke="#ff0000" stroke-width="0.3" text-anchor="middle" textLength="42.6" lengthAdjust="spacingAndGlyphs">14991</text>
<g stroke="#000" stroke-width="1.4" fill="none">
<path d="M157.2 162V723.1H1197.2"/>
<path d="M157.2 187.1V702.3"/>
<path d="M1197.2 182.7V702.3"/>
<path d="M146.3 702.3H157.2"/>
<path d="M146.3 616.4H157.2"/>
<path d="M146.3 530.6H157.2"/>
<path d="M146.3 444.7H157.2"/>
<path d="M146.3 358.9H157.2"/>
<path d="M146.3 273.0H157.2"/>
<path d="M146.3 187.1H157.2"/>
<path d="M1197.2 702.3H1208"/>
<path d="M1197.2 529.1H1208"/>
<path d="M1197.2 355.9H1208"/>
<path d="M1197.2 182.7H1208"/>
<path d="M702.5 723.1V733.6"/>
</g>
<g font-size="16.5" fill="#000" stroke="#000" stroke-width="0.25">
<text x="134" y="708.2" text-anchor="end">0</text>
<text x="134" y="622.3" text-anchor="end">20</text>
<text x="134" y="536.5" text-anchor="end">40</text>
<text x="134" y="450.6" text-anchor="end">60</text>
<text x="134" y="364.8" text-anchor="end">80</text>
<text x="134" y="278.9" text-anchor="end" textLength="25.4" lengthAdjust="spacingAndGlyphs">100</text>
<text x="134" y="193.0" text-anchor="end" textLength="23.4" lengthAdjust="spacingAndGlyphs">120</text>
<text transform="translate(1233 702.3) rotate(-90)" text-anchor="middle">0</text>
<text transform="translate(1233 529.1) rotate(-90)" text-anchor="middle" textLength="37.5" lengthAdjust="spacingAndGlyphs">5000</text>
<text transform="translate(1233 355.9) rotate(-90)" text-anchor="middle" textLength="47.5" lengthAdjust="spacingAndGlyphs">10000</text>
<text transform="translate(1233 182.7) rotate(-90)" text-anchor="middle" textLength="44.5" lengthAdjust="spacingAndGlyphs">15000</text>
<text x="702" y="760.1" text-anchor="middle" textLength="33.8" lengthAdjust="spacingAndGlyphs">2021</text>
<text x="676.8" y="801.2" text-anchor="middle" textLength="167.5" lengthAdjust="spacingAndGlyphs">Ημερομηνία θανάτου</text>
<text transform="translate(89.0 442.2) rotate(-90)" text-anchor="middle" textLength="182.5" lengthAdjust="spacingAndGlyphs">Αριθμός νέων θανάτων</text>
<text transform="translate(1274 443) rotate(-90)" text-anchor="middle" textLength="224" lengthAdjust="spacingAndGlyphs">Συνολικός αριθμός θανάτων</text>
</g>
</svg>
<span class="t" style="left:52.1px;top:12.1px;font-size:18.2px;letter-spacing:-0.150px">Οι</span>
<span class="t" style="left:79.8px;top:12.1px;font-size:18.2px;letter-spacing:0.780px">νέοι</span>
<span class="t b" style="left:118.9px;top:12.1px;font-size:18.2px;letter-spacing:0.634px">θάνατοι</span>
<span class="t" style="left:194.4px;top:12.1px;font-size:18.2px;letter-spacing:0.840px">ασθενών</span>
<span class="t" style="left:278.6px;top:12.1px;font-size:18.2px;letter-spacing:1.006px">με</span>
<span class="t" style="left:302.6px;top:12.1px;font-size:18.2px;letter-spacing:-0.150px">COVID-19</span>
<span class="t" style="left:390.2px;top:12.1px;font-size:18.2px;letter-spacing:0.622px">είναι</span>
<span class="t b" style="left:435.5px;top:12.1px;font-size:18.2px;letter-spacing:1.066px">34</span>
<span class="t" style="left:457.3px;top:12.1px;font-size:18.2px;letter-spacing:0.000px">,</span>
<span class="t" style="left:469.4px;top:12.1px;font-size:18.2px;letter-spacing:0.597px">ενώ</span>
<span class="t" style="left:509.6px;top:12.1px;font-size:18.2px;letter-spacing:-0.150px">από</span>
<span class="t" style="left:549.4px;top:12.1px;font-size:18.2px;letter-spacing:1.600px">την</span>
<span class="t" style="left:587.2px;top:12.1px;font-size:18.2px;letter-spacing:1.034px">έναρξη</span>
<span class="t" style="left:655.0px;top:12.1px;font-size:18.2px;letter-spacing:0.761px">της</span>
<span class="t" style="left:690.6px;top:12.1px;font-size:18.2px;letter-spacing:0.881px">επιδημίας</span>
<span class="t" style="left:784.5px;top:12.1px;font-size:18.2px;letter-spacing:0.643px">έχουν</span>
<span class="t" style="left:840.4px;top:12.1px;font-size:18.2px;letter-spacing:1.107px">καταγραφεί</span>
<span class="t" style="left:948.6px;top:12.1px;font-size:18.2px;letter-spacing:0.891px">συνολικά</span>
<span class="t b" style="left:1033.4px;top:12.1px;font-size:18.2px;letter-spacing:-0.150px">14.991</span>
<span class="t b" style="left:1093.3px;top:12.1px;font-size:18.2px;letter-spacing:0.468px">θάνατοι</span>
<span class="t" style="left:1161.1px;top:12.1px;font-size:18.2px;letter-spacing:0.000px">.</span>
<span class="t" style="left:1185.8px;top:12.1px;font-size:18.2px;letter-spacing:0.866px">Το</span>
<span class="t" style="left:1211.9px;top:12.1px;font-size:18.2px;letter-spacing:-0.150px">95.4%</span>
<span class="t" style="left:1268.8px;top:12.1px;font-size:18.2px;letter-spacing:0.929px">είχε</span>
<span class="t" style="left:52.8px;top:41.0px;font-size:18.2px;letter-spacing:0.857px">υποκείμενο</span>
<span class="t" style="left:158.5px;top:41.0px;font-size:18.2px;letter-spacing:1.600px">νόσημα</span>
<span class="t" style="left:235.6px;top:41.0px;font-size:18.2px;letter-spacing:0.948px">ή/και</span>
<span class="t" style="left:284.1px;top:41.0px;font-size:18.2px;letter-spacing:1.079px">ηλικία</span>
<span class="t" style="left:342.3px;top:41.0px;font-size:18.2px;letter-spacing:-0.150px">70</span>
<span class="t" style="left:367.4px;top:41.0px;font-size:18.2px;letter-spacing:0.452px">ετών</span>
<span class="t" style="left:414.6px;top:41.0px;font-size:18.2px;letter-spacing:1.181px">και</span>
<span class="t" style="left:447.6px;top:41.0px;font-size:18.2px;letter-spacing:0.242px">άνω.</span>
<span class="t b" style="left:165.1px;top:118.7px;font-size:19.3px;letter-spacing:-0.116px">Διάγραμμα</span>
<span class="t b" style="left:269.7px;top:118.7px;font-size:19.3px;letter-spacing:-0.150px">2:</span>
<span class="t b" style="left:292.4px;top:118.7px;font-size:19.3px;letter-spacing:-0.022px">Αριθμός</span>
<span class="t b" style="left:375.1px;top:118.7px;font-size:19.3px;letter-spacing:0.041px">εργαστηριακά</span>
<span class="t b" style="left:511.9px;top:118.7px;font-size:19.3px;letter-spacing:-0.145px">επιβεβαιωμένων</span>
<span class="t b" style="left:671.1px;top:118.7px;font-size:19.3px;letter-spacing:0.060px">θανάτων</span>
<span class="t b" style="left:758.6px;top:118.7px;font-size:19.3px;letter-spacing:0.447px">με</span>
<span class="t b" style="left:785.6px;top:118.7px;font-size:19.3px;letter-spacing:-0.150px">COVID-19</span>
<span class="t b" style="left:879.6px;top:118.7px;font-size:19.3px;letter-spacing:-0.150px">στην</span>
<span class="t b" style="left:929.6px;top:118.7px;font-size:19.3px;letter-spacing:-0.150px">Ελλάδα,</span>
<span class="t b" style="left:1007.8px;top:118.7px;font-size:19.3px;letter-spacing:-0.150px">05</span>
<span class="t b" style="left:1035.0px;top:118.7px;font-size:19.3px;letter-spacing:0.091px">Οκτωβρίου</span>
<span class="t b" style="left:1145.1px;top:118.7px;font-size:19.3px;letter-spacing:-0.150px">2021</span>
<span class="t" style="left:52.8px;top:840.9px;font-size:19.1px;transform:scaleX(0.9422);transform-origin:0 0">Σημ.:</span>
<span class="t" style="left:103.0px;top:840.9px;font-size:19.1px;transform:scaleX(0.8403);transform-origin:0 0">οι</span>
<span class="t" style="left:121.8px;top:840.9px;font-size:19.1px;transform:scaleX(1.0836);transform-origin:0 0">στήλες</span>
<span class="t" style="left:190.7px;top:840.9px;font-size:19.1px;transform:scaleX(0.9566);transform-origin:0 0">στο</span>
<span class="t" style="left:225.0px;top:840.9px;font-size:19.1px;transform:scaleX(0.9943);transform-origin:0 0">Διάγραμμα</span>
<span class="t" style="left:325.0px;top:840.9px;font-size:19.1px;transform:scaleX(0.8471);transform-origin:0 0">2</span>
<span class="t" style="left:340.6px;top:840.9px;font-size:19.1px;transform:scaleX(1.0205);transform-origin:0 0">εκφράζουν</span>
<span class="t" style="left:440.6px;top:840.9px;font-size:19.1px;transform:scaleX(1.0090);transform-origin:0 0">τον</span>
<span class="t" style="left:475.9px;top:840.9px;font-size:19.1px;transform:scaleX(1.0156);transform-origin:0 0">αριθμό</span>
<span class="t" style="left:542.5px;top:840.9px;font-size:19.1px;transform:scaleX(1.0090);transform-origin:0 0">νέων</span>
<span class="t" style="left:592.0px;top:840.9px;font-size:19.1px;transform:scaleX(0.9867);transform-origin:0 0">θανάτων</span>
<span class="t" style="left:672.6px;top:840.9px;font-size:19.1px;transform:scaleX(1.0556);transform-origin:0 0">με</span>
<span class="t" style="left:700.9px;top:840.9px;font-size:19.1px;transform:scaleX(0.9181);transform-origin:0 0">βάση</span>
<span class="t" style="left:749.7px;top:840.9px;font-size:19.1px;transform:scaleX(1.0607);transform-origin:0 0">την</span>
<span class="t" style="left:785.7px;top:840.9px;font-size:19.1px;transform:scaleX(1.0289);transform-origin:0 0">ημερομηνία</span>
<span class="t" style="left:894.6px;top:840.9px;font-size:19.1px;transform:scaleX(1.0386);transform-origin:0 0">θανάτου</span>
<span class="t" style="left:1167.9px;top:10.9px;font-size:10.5px">3</span>
</body></html>
